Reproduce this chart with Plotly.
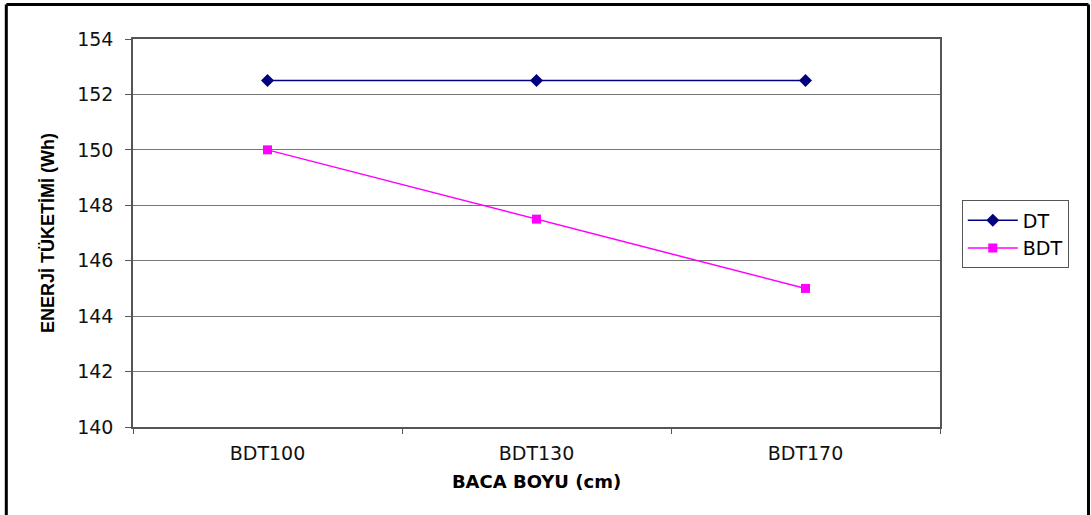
import plotly.graph_objects as go

categories = ["BDT100", "BDT130", "BDT170"]
dt_values = [152.5, 152.5, 152.5]
bdt_values = [150.0, 147.5, 145.0]
y_ticks = [140, 142, 144, 146, 148, 150, 152, 154]

fig = go.Figure()
fig.add_trace(go.Scatter(
    x=categories, y=dt_values, name="DT", mode="lines+markers",
    line=dict(color="#000080", width=1.5),
    marker=dict(symbol="diamond", size=10, color="#000080"),
))
fig.add_trace(go.Scatter(
    x=categories, y=bdt_values, name="BDT", mode="lines+markers",
    line=dict(color="#FF00FF", width=1.5),
    marker=dict(symbol="square", size=9, color="#FF00FF"),
))

# outer frame of the chart area
fig.add_shape(type="line", xref="paper", yref="paper",
              x0=-0.157, x1=1.184, y0=1.089, y1=1.089,
              line=dict(color="black", width=3))
fig.add_shape(type="line", xref="paper", yref="paper",
              x0=-0.157, x1=-0.157, y0=1.089, y1=-0.3,
              line=dict(color="black", width=3))
fig.add_shape(type="line", xref="paper", yref="paper",
              x0=1.184, x1=1.184, y0=1.089, y1=-0.3,
              line=dict(color="black", width=3))

tick_font = dict(family="DejaVu Sans, Arial, sans-serif", size=19, color="#111111")

fig.update_layout(
    width=1091, height=515,
    margin=dict(l=133, r=151, t=39, b=88),
    paper_bgcolor="white", plot_bgcolor="white",
    font=dict(family="DejaVu Sans, Arial, sans-serif", color="black", size=19),
    showlegend=True,
    legend=dict(
        x=1.027, y=0.584, xanchor="left", yanchor="top",
        bordercolor="#555555", borderwidth=1, bgcolor="white",
        font=dict(size=19), tracegroupgap=0, itemwidth=50,
    ),
    xaxis=dict(
        type="category", tickson="boundaries", range=[-0.5, 2.5],
        ticks="outside", ticklen=5, tickcolor="#555555",
        showline=True, linecolor="#555555", linewidth=1.5, mirror=True,
        showgrid=False, ticklabelstandoff=8,
        title=dict(text="<b>BACA BOYU (cm)</b>",
                   font=dict(size=18, family="DejaVu Sans, Arial, sans-serif"),
                   standoff=13),
        tickfont=tick_font,
    ),
    yaxis=dict(
        range=[140, 154], tickvals=y_ticks,
        ticks="outside", ticklen=6, tickcolor="#555555",
        showline=True, linecolor="#555555", linewidth=1.5, mirror=True,
        showgrid=True, gridcolor="#777777", gridwidth=1,
        zeroline=False, ticklabelstandoff=8,
        title=dict(text="<b>ENERJİ TÜKETİMİ (Wh)</b>",
                   font=dict(size=18, family="Liberation Sans, Arial, sans-serif"),
                   standoff=18),
        tickfont=tick_font,
    ),
)

fig.write_html("out.html")
